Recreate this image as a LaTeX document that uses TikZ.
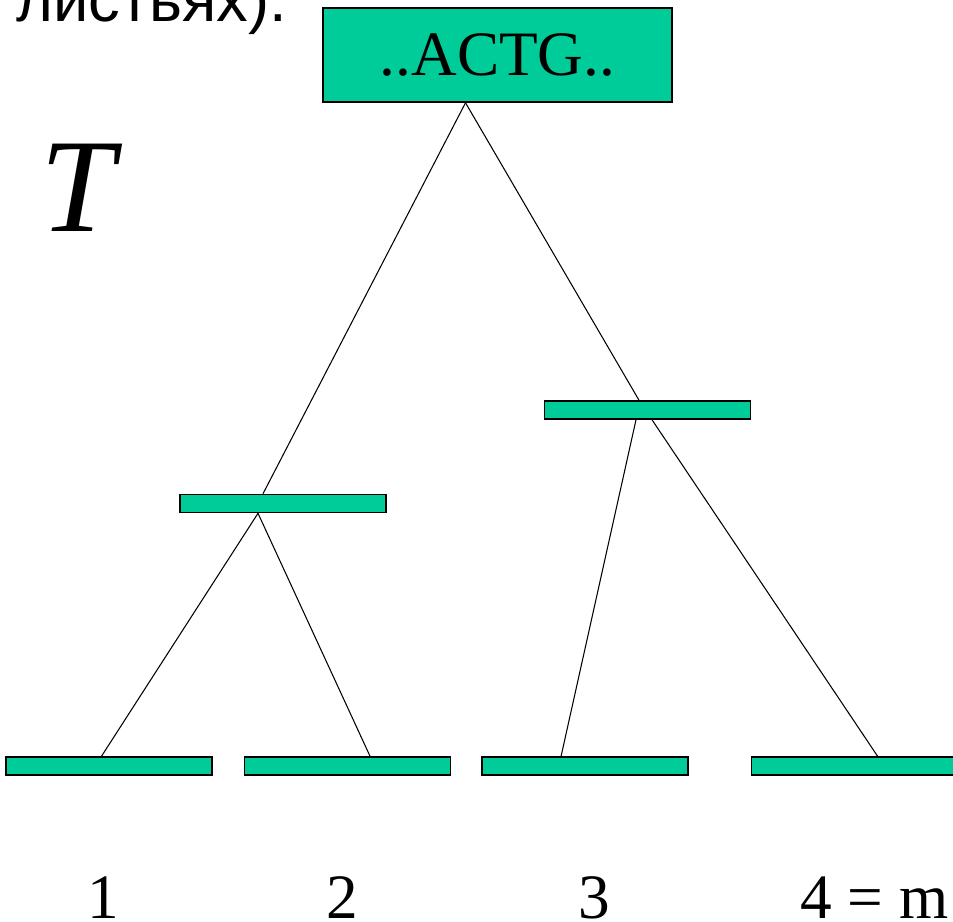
\documentclass[tikz,border=0pt]{standalone}
\usepackage{fontspec}
\setmainfont{Liberation Serif}
\newfontfamily\cyrsans{Liberation Sans}
\usetikzlibrary{positioning}
\definecolor{seqgreen}{HTML}{00CC99}

\begin{document}
\begin{tikzpicture}[
    x=0.02cm, y=-0.02cm,
    node distance=0.62cm,
    seq/.style={draw, line width=0.9pt, fill=seqgreen, inner sep=0pt},
    bar/.style={seq, minimum width=4.12cm, minimum height=0.36cm},
    edge/.style={line width=0.6pt},
    lbl/.style={anchor=base, inner sep=0pt, font=\fontsize{36}{40}\selectfont}
  ]
    \useasboundingbox (0,0) rectangle (953,922);
    \node[anchor=base west, inner sep=0pt, font=\cyrsans\fontsize{36}{40}\selectfont] (caption) at (16,21.5) {листьях).};
    \node[seq, minimum width=6.98cm, minimum height=1.88cm, font=\fontsize{36}{40}\selectfont] (root) at (497.5,55) {..ACTG..};
    \node[lbl, font=\itshape\fontsize{76}{80}\selectfont] (tree) at (78,232) {T};
    \node[bar] (left) at (283,503.5) {};
    \node[bar] (right) at (647.5,410) {};
    \node[bar] (leafa) at (109,766) {};
    \node[bar, right=of leafa] (leafb) {};
    \node[bar, right=0.60cm of leafb] (leafc) {};
    \node[bar, right=1.24cm of leafc] (leafd) {};
    \node[lbl] (numa) at (103,918) {1};
    \node[lbl] (numb) at (342,918) {2};
    \node[lbl] (numc) at (594,918) {3};
    \node[lbl] (numd) at (874.5,918) {4 = m};
    \draw[edge] ([xshift=-0.64cm]root.south) -- ([xshift=-0.40cm]left.north);
    \draw[edge] ([xshift=-0.64cm]root.south) -- ([xshift=-0.17cm]right.north);
    \draw[edge] ([xshift=-0.50cm]left.south) -- ([xshift=-0.15cm]leafa.north);
    \draw[edge] ([xshift=-0.50cm]left.south) -- ([xshift=0.45cm]leafb.north);
    \draw[edge] ([xshift=-0.23cm]right.south) -- ([xshift=-0.48cm]leafc.north);
    \draw[edge] ([xshift=0.09cm]right.south) -- ([xshift=0.46cm]leafd.north);
  \end{tikzpicture}
\end{document}
